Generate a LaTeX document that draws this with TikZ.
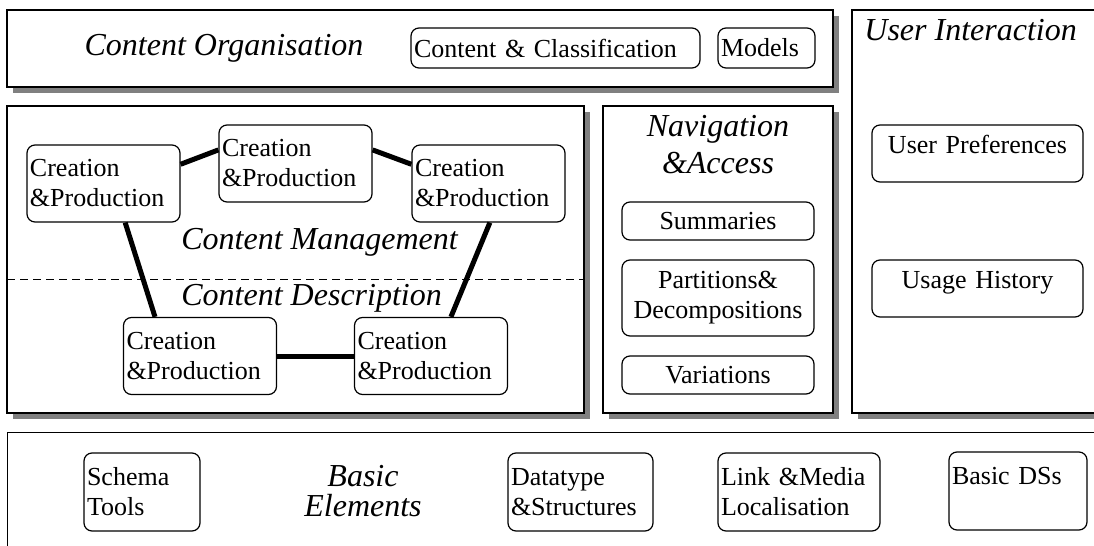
\documentclass[tikz,border=0pt]{standalone}
\usepackage{fontspec}
\setmainfont{Liberation Serif}

\tikzset{
  frame/.style={draw, fill=white, line width=0.85pt},
  shd/.style={fill=gray, draw=none},
  head/.style={font=\fontsize{16}{18.5}\selectfont\itshape, align=center, inner sep=0pt},
  blk/.style={draw, fill=white, rounded corners=4pt, line width=0.6pt,
    inner xsep=1.5pt, inner ysep=0pt, align=left, font=\fontsize{13}{15}\selectfont},
  cp/.style={blk, text width=73.5pt, minimum height=38.5pt},
  nav/.style={blk, align=center, text width=93pt},
  usr/.style={blk, align=center, text width=102.5pt, minimum height=28.5pt,
    text height=9pt, text depth=9pt},
  bas/.style={blk, minimum height=39pt},
  link/.style={line width=2.5pt},
}

\begin{document}
\begin{tikzpicture}[x=0.5pt,y=-0.5pt]
  \useasboundingbox (0,0) rectangle (1094,546);
  \path[shd] (13,16) rectangle (839,93);
  \path[shd] (858,16) rectangle (1126,419);
  \path[shd] (13,112) rectangle (590,419);
  \path[shd] (609,112) rectangle (839,419);
  \draw[frame] (7,10) rectangle (833,87);
  \draw[frame] (852,10) rectangle (1120,413);
  \draw[frame] (7,106) rectangle (584,413);
  \draw[frame] (603,106) rectangle (833,413);
  \draw[fill=white, line width=0.5pt] (7,432) rectangle (1120,570);
  \draw[line width=0.5pt, dash pattern=on 4pt off 2.5pt] (7,279) -- (584,279);

  \node[head] (orgT) at (224,48) {Content Organisation};
  \node[blk, text width=141.5pt, minimum height=20pt] (cc) at (555.5,48) {Content \& Classification};
  \node[blk, text width=45.5pt, minimum height=20pt] (models) at (766.5,48) {Models};

  \node[head, anchor=west] (manT) at (181,242) {Content Management};
  \node[head, anchor=west] (desT) at (181,298) {Content Description};
  \node[cp] (cpA) at (103.5,183.5) {Creation\\\&Production};
  \node[cp] (cpB) at (295.5,163.5) {Creation\\\&Production};
  \node[cp] (cpC) at (488.5,183.5) {Creation\\\&Production};
  \node[cp] (cpD) at (200,356) {Creation\\\&Production};
  \node[cp] (cpE) at (431,356) {Creation\\\&Production};
  \draw[link] (cpA.14) -- (cpB.170);
  \draw[link] (cpB.10) -- (cpC.166);
  \draw[link] (cpA.299) -- (cpD.139);
  \draw[link] (cpC.272) -- (cpE.63);
  \draw[link] (cpD) -- (cpE);

  \node[head] (navT) at (718,145) {Navigation\\\&Access};
  \node[nav, minimum height=19pt] (summ) at (718,221) {Summaries};
  \node[nav, minimum height=38pt] (part) at (718,298) {Partitions\&\\Decompositions};
  \node[nav, minimum height=19pt] (vari) at (718,375) {Variations};

  \node[head, anchor=west] (uiT) at (864,30) {User Interaction};
  \node[usr] (pref) at (977.5,153.5) {User Preferences};
  \node[usr] (hist) at (977.5,288.5) {Usage History};

  \node[head, font=\fontsize{16}{15}\selectfont\itshape] (basT) at (363,491) {Basic\\Elements};
  \node[bas, text width=55pt] (schema) at (142,492) {Schema\\Tools};
  \node[bas, text width=69.5pt] (dtype) at (580.5,492) {Datatype\\\&Structures};
  \node[bas, text width=78pt] (media) at (799,492) {Link \&Media\\Localisation};
  \node[bas, text width=66pt] (bds) at (1018,491) {Basic DSs\\\mbox{}};
\end{tikzpicture}
\end{document}
